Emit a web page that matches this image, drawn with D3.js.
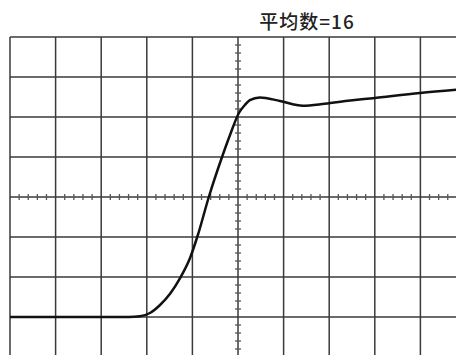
<!DOCTYPE html>
<html>
<head>
<meta charset="utf-8">
<script src="https://cdn.jsdelivr.net/npm/d3@7"></script>
<style>
  body { margin: 0; background: #fff; }
  svg { display: block; }
</style>
</head>
<body>
<svg id="scope" width="456" height="355"></svg>
<script>
// grid divisions (horizontal -5..5, vertical -4..4)
var xDivs = [-5, -4, -3, -2, -1, 0, 1, 2, 3, 4, 5];
var yDivs = [-4, -3, -2, -1, 0, 1, 2, 3, 4];
var titleText = "平均数=16";

// waveform, in divisions
var waveX = [-5, -4, -3, -2.4, -2.15, -1.93, -1.71, -1.49, -1.27, -1.05, -0.88, -0.64, -0.35, -0.175, 0.02, 0.15, 0.26, 0.48, 0.92, 1.42, 1.9, 2.46, 2.96, 3.99, 5.0];
var waveY = [-3, -3, -3, -3, -2.98, -2.9, -2.7, -2.42, -2.03, -1.52, -0.95, 0, 1.0, 1.55, 2.1, 2.3, 2.42, 2.49, 2.4, 2.28, 2.33, 2.41, 2.47, 2.6, 2.7];

var width = 456, height = 355;
var svg = d3.select("#scope");

var x = d3.scaleLinear().domain([-5, 5]).range([10, 466]);
var y = d3.scaleLinear().domain([-4, 4]).range([357, 37]);

// grid
var grid = svg.append("g")
  .attr("stroke", "#3a3a3a")
  .attr("stroke-width", 1.5);

grid.selectAll("line.v")
  .data(xDivs)
  .enter().append("line")
    .attr("class", "v")
    .attr("x1", d => x(d)).attr("x2", d => x(d))
    .attr("y1", y(4)).attr("y2", y(-4));

grid.selectAll("line.h")
  .data(yDivs)
  .enter().append("line")
    .attr("class", "h")
    .attr("y1", d => y(d)).attr("y2", d => y(d))
    .attr("x1", x(-5)).attr("x2", x(5));

// minor ticks on the centre axes, 5 per division
var minorX = d3.range(-25, 26).filter(i => i % 5 != 0).map(i => i / 5);
var minorY = d3.range(-20, 21).filter(i => i % 5 != 0).map(i => i / 5);

var ticks = svg.append("g")
  .attr("stroke", "#555")
  .attr("stroke-width", 1.3);

ticks.selectAll("line.mx")
  .data(minorX)
  .enter().append("line")
    .attr("x1", d => x(d)).attr("x2", d => x(d))
    .attr("y1", y(0) - 3).attr("y2", y(0) + 3);

ticks.selectAll("line.my")
  .data(minorY)
  .enter().append("line")
    .attr("y1", d => y(d)).attr("y2", d => y(d))
    .attr("x1", x(0) - 3).attr("x2", x(0) + 3);

// waveform
var wave = waveX.map((d, i) => [d, waveY[i]]);
var line = d3.line()
  .x(d => x(d[0]))
  .y(d => y(d[1]))
  .curve(d3.curveMonotoneX);

svg.append("path")
  .datum(wave)
  .attr("fill", "none")
  .attr("stroke", "#111")
  .attr("stroke-width", 2.5)
  .attr("d", line);

// title
svg.append("text")
  .attr("x", 307)
  .attr("y", 29)
  .attr("text-anchor", "middle")
  .style("font-family", "'Noto Sans CJK SC', sans-serif")
  .style("font-size", "19px")
  .style("font-weight", "500")
  .style("letter-spacing", "1px")
  .style("fill", "#222")
  .text(titleText);
</script>
</body>
</html>
